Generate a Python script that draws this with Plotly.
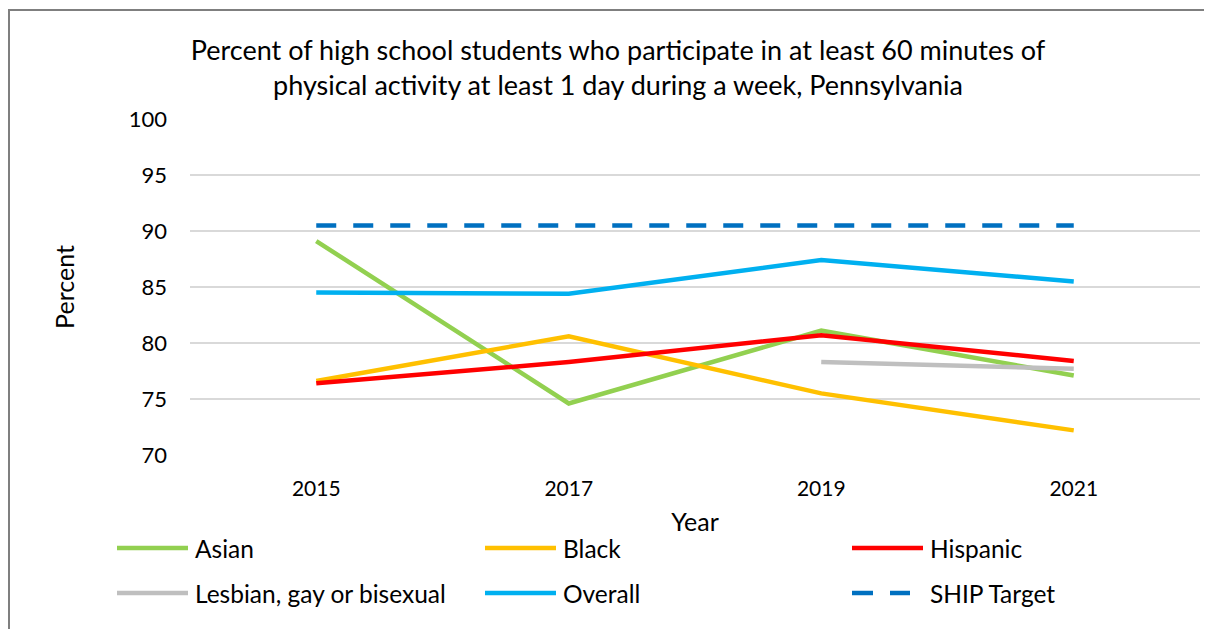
import plotly.graph_objects as go

# ---- data ----
years = ["2015", "2017", "2019", "2021"]
asian = [89.1, 74.6, 81.1, 77.1]
black = [76.6, 80.6, 75.5, 72.2]
hispanic = [76.4, 78.3, 80.7, 78.4]
lgb = [None, None, 78.3, 77.7]
overall = [84.5, 84.4, 87.4, 85.5]
ship_target = [90.5, 90.5, 90.5, 90.5]

series_names = ["Asian", "Black", "Hispanic", "Lesbian, gay or bisexual", "Overall", "SHIP Target"]
series_values = [asian, black, hispanic, lgb, overall, ship_target]
series_colors = ["#92D050", "#FFC000", "#FF0000", "#BFBFBF", "#00B0F0", "#0070C0"]
series_dash = ["solid", "solid", "solid", "solid", "solid", "20px,17px"]

title_text = ("Percent of high school students who participate in at least 60 minutes of<br>"
              "physical activity at least 1 day during a week, Pennsylvania")

FONT = "Lato, Carlito, Calibri, sans-serif"
OFF = 8  # page body margin offset
W, H = 1204, 621
L, R, T, B = 182, 12, 111, 174
PW, PH = W - L - R, H - T - B


def px(x):
    """page pixel x -> paper fraction"""
    return (x - OFF - L) / PW


def py(y):
    """page pixel y -> paper fraction"""
    return (H - B - (y - OFF)) / PH


fig = go.Figure()
for name, vals, col, dash in zip(series_names, series_values, series_colors, series_dash):
    fig.add_trace(go.Scatter(
        x=years, y=vals, name=name, mode="lines",
        line=dict(color=col, width=4.5, dash=dash),
        showlegend=False, connectgaps=False,
    ))

shapes = []
annotations = []

# legend (manual, 3 columns x 2 rows)
col_x = [117, 485, 852]
row_y = [548, 593]
for i, (name, col, dash) in enumerate(zip(series_names, series_colors, series_dash)):
    cx = col_x[i % 3]
    cy = row_y[i // 3]
    if dash == "solid":
        shapes.append(dict(type="line", xref="paper", yref="paper",
                           x0=px(cx), x1=px(cx + 71), y0=py(cy), y1=py(cy),
                           line=dict(color=col, width=4.5)))
    else:
        for seg in [(cx, cx + 21), (cx + 38, cx + 58)]:
            shapes.append(dict(type="line", xref="paper", yref="paper",
                               x0=px(seg[0]), x1=px(seg[1]), y0=py(cy), y1=py(cy),
                               line=dict(color=col, width=4.5)))
    annotations.append(dict(text=name, xref="paper", yref="paper",
                            x=px(cx + 76), y=py(cy), xanchor="left", yanchor="middle",
                            showarrow=False, font=dict(family=FONT, size=24.5, color="#000000")))

# outer frame of chart area
shapes.append(dict(type="rect", xref="paper", yref="paper",
                   x0=px(9), x1=px(1240), y0=py(10), y1=py(680),
                   line=dict(color="#7F7F7F", width=2), fillcolor="rgba(0,0,0,0)", layer="below"))

fig.update_layout(
    width=W, height=H,
    margin=dict(l=L, r=R, t=T, b=B, autoexpand=False),
    paper_bgcolor="white", plot_bgcolor="white",
    font=dict(family=FONT, size=21, color="#000000"),
    title=dict(text=title_text, xref="paper", x=px(618), xanchor="center",
               y=1 - 52 / H, yanchor="middle",
               font=dict(family=FONT, size=27, color="#000000")),
    shapes=shapes, annotations=annotations,
    showlegend=False,
)
fig.update_xaxes(
    type="category", range=[-0.5, 3.5], showgrid=False, zeroline=False,
    showline=False, ticks="", ticklabelstandoff=19,
    tickfont=dict(family=FONT, size=21),
    title=dict(text="Year", standoff=14, font=dict(family=FONT, size=25)),
)
fig.update_yaxes(
    range=[70, 100], dtick=5, showgrid=True, gridcolor="#D9D9D9", gridwidth=1.5,
    zeroline=False, showline=False, ticks="", ticklabelstandoff=22,
    tickfont=dict(family=FONT, size=22),
    title=dict(text="Percent", standoff=46, font=dict(family=FONT, size=25)),
)

fig.write_html("out.html")
